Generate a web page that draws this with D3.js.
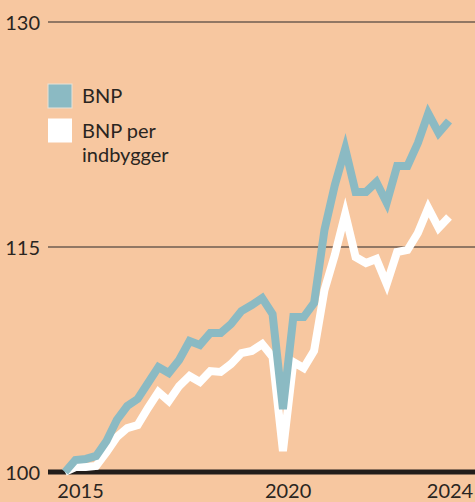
<!DOCTYPE html>
<html>
<head>
<meta charset="utf-8">
<script src="https://cdn.jsdelivr.net/npm/d3@7"></script>
<style>
  html, body { margin: 0; padding: 0; background: #f7c7a0; }
  svg { display: block; }
  text { font-family: Lato, "Open Sans", sans-serif; fill: #2a2521; }
</style>
</head>
<body>
<svg id="chart" width="475" height="502"></svg>
<script>
// Quarters 2015K1 .. 2024K2
const quarters = [
  "2015K1","2015K2","2015K3","2015K4",
  "2016K1","2016K2","2016K3","2016K4",
  "2017K1","2017K2","2017K3","2017K4",
  "2018K1","2018K2","2018K3","2018K4",
  "2019K1","2019K2","2019K3","2019K4",
  "2020K1","2020K2","2020K3","2020K4",
  "2021K1","2021K2","2021K3","2021K4",
  "2022K1","2022K2","2022K3","2022K4",
  "2023K1","2023K2","2023K3","2023K4",
  "2024K1","2024K2"
];
const bnp = [
  100.0, 100.8, 100.87, 101.07,
  102.07, 103.47, 104.4, 104.87,
  105.93, 107.0, 106.6, 107.47,
  108.73, 108.47, 109.27, 109.27,
  109.87, 110.73, 111.13, 111.6,
  110.53, 104.2, 110.33, 110.33,
  111.27, 116.13, 119.13, 121.55,
  118.67, 118.67, 119.33, 117.95,
  120.4, 120.4, 121.93, 123.9,
  122.6, 123.4
];
const bnpPerCapita = [
  100.0, 100.33, 100.33, 100.4,
  101.33, 102.33, 102.93, 103.13,
  104.27, 105.33, 104.73, 105.73,
  106.4, 106.0, 106.73, 106.67,
  107.2, 107.93, 108.07, 108.53,
  107.67, 101.4, 107.33, 106.93,
  108.07, 112.13, 114.47, 117.2,
  114.33, 113.93, 114.2, 112.53,
  114.67, 114.8, 115.93, 117.6,
  116.27, 117.0
];
const yTicks = [100, 115, 130];
const xTickYears = [2015, 2020, 2024];
const seriesNames = ["BNP", "BNP per indbygger"];
const seriesColors = ["#8bbac3", "#ffffff"];

const svg = d3.select("#chart");
const W = 475, H = 502;

// fractional year at mid-quarter
const qTime = q => +q.slice(0, 4) + (+q.slice(5) - 1) * 0.25 + 0.125;

const x = d3.scaleLinear()
  .domain([qTime(quarters[0]), qTime(quarters[quarters.length - 1])])
  .range([65, 449]);
const y = d3.scaleLinear().domain([100, 130]).range([472, 22]);

const gridLeft = 48;

// gridlines
svg.append("g").selectAll("line")
  .data(yTicks.filter(t => t !== 100))
  .join("line")
  .attr("x1", gridLeft).attr("x2", W)
  .attr("y1", d => y(d)).attr("y2", d => y(d))
  .attr("stroke", "#6f5d50").attr("stroke-width", 1.3);

// y tick labels
svg.append("g").selectAll("text")
  .data(yTicks)
  .join("text")
  .attr("x", 40)
  .attr("y", d => y(d) + 7.5)
  .attr("text-anchor", "end")
  .attr("font-size", 20)
  .text(d => d);

// x labels
svg.append("g").selectAll("text")
  .data(xTickYears)
  .join("text")
  .attr("x", d => Math.min(x(d + 0.5), W - 25))
  .attr("y", 498)
  .attr("text-anchor", "middle")
  .attr("font-size", 20)
  .text(d => d);

// lines
const line = d3.line()
  .x((d, i) => x(qTime(quarters[i])))
  .y(d => y(d));

// baseline
svg.append("line")
  .attr("x1", gridLeft).attr("x2", W)
  .attr("y1", y(100)).attr("y2", y(100))
  .attr("stroke", "#221d1b").attr("stroke-width", 5);

[bnpPerCapita, bnp].forEach((s, k) => {
  svg.append("path")
    .datum(s)
    .attr("d", line)
    .attr("fill", "none")
    .attr("stroke", k === 0 ? seriesColors[1] : seriesColors[0])
    .attr("stroke-width", 8)
    .attr("stroke-linejoin", "miter")
    .attr("stroke-miterlimit", 6)
    .attr("stroke-linecap", "butt");
});

// legend
const legend = svg.append("g");
const legendRows = [
  { name: seriesNames[0], color: seriesColors[0], lines: ["BNP"] },
  { name: seriesNames[1], color: seriesColors[1], lines: ["BNP per", "indbygger"] }
];
legendRows.forEach((r, i) => {
  const top = 84 + i * 34.5;
  legend.append("rect")
    .attr("x", 48).attr("y", top)
    .attr("width", 24).attr("height", 24)
    .attr("fill", r.color)
    .attr("stroke", i === 0 ? "#e8e2d6" : "none")
    .attr("stroke-width", 1);
  r.lines.forEach((t, j) => {
    legend.append("text")
      .attr("x", 82)
      .attr("y", top + 19 + j * 24)
      .attr("font-size", 20)
      .text(t);
  });
});
</script>
</body>
</html>
